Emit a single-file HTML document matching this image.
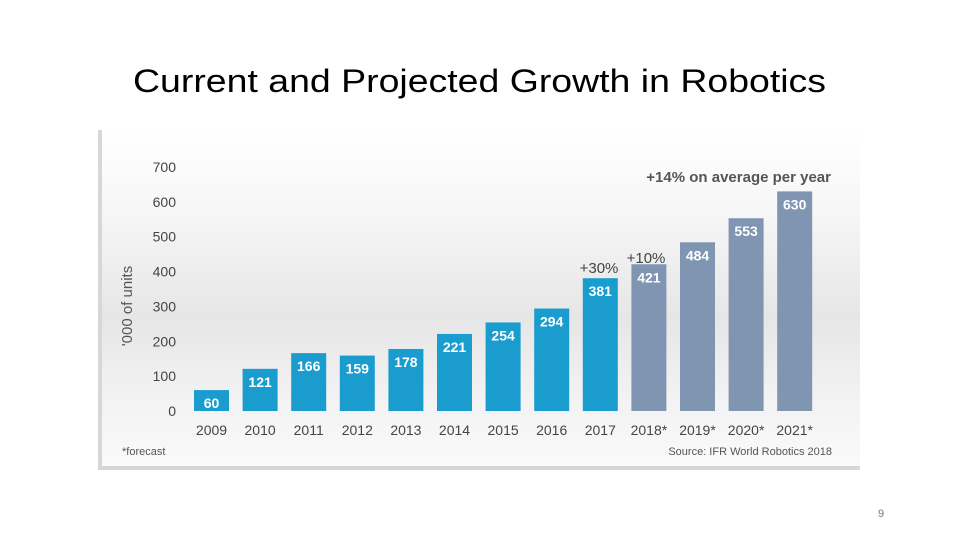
<!DOCTYPE html>
<html><head><meta charset="utf-8"><style>
body{margin:0;width:960px;height:540px;background:#fff;position:relative;overflow:hidden;font-family:"Liberation Sans",sans-serif}
#pg{position:absolute;left:878px;top:508px;font-size:11px;color:#777}
</style></head><body>
<svg id="chart" width="960" height="540" style="position:absolute;left:0;top:0">
<defs>
<linearGradient id="bg" x1="0" y1="0" x2="0" y2="1">
<stop offset="0" stop-color="#ffffff"/><stop offset="0.25" stop-color="#f6f6f6"/><stop offset="0.55" stop-color="#e6e6e6"/><stop offset="0.8" stop-color="#f3f3f3"/><stop offset="1" stop-color="#fafafa"/>
</linearGradient>
</defs>
<text x="133" y="92" font-size="32" textLength="693" lengthAdjust="spacingAndGlyphs" fill="#000">Current and Projected Growth in Robotics</text>
<rect x="98" y="130" width="762" height="340" fill="url(#bg)"/>
<rect x="98" y="130" width="4" height="340" fill="#d4d8dd"/>
<rect x="98" y="466" width="762" height="4" fill="#d4d8dd"/>
<g id="ticks"></g><g id="bars"></g>
<text transform="translate(132,306) rotate(-90)" text-anchor="middle" font-size="15" fill="#555">'000 of units</text>
<text x="122" y="455" font-size="11" fill="#555">*forecast</text>
<text x="832" y="455" font-size="11" fill="#555" text-anchor="end">Source: IFR World Robotics 2018</text>
<text x="831" y="182" font-size="15" font-weight="bold" fill="#555" text-anchor="end">+14% on average per year</text>
<text x="599" y="273" font-size="15" fill="#444" text-anchor="middle">+30%</text>
<text x="646" y="263" font-size="15" fill="#444" text-anchor="middle">+10%</text>
</svg>
<div id="pg">9</div>
<script>
const years=["2009","2010","2011","2012","2013","2014","2015","2016","2017","2018*","2019*","2020*","2021*"];
const units=[60,121,166,159,178,221,254,294,381,421,484,553,630];
const forecast=[false,false,false,false,false,false,false,false,false,true,true,true,true];
const yTicks=[0,100,200,300,400,500,600,700];
const NS="http://www.w3.org/2000/svg";
const y0=411,ppu=244/700;
const yS=v=>y0-v*ppu;
const xS=i=>194+i*48.6;
const bw=35;
function mk(t,a,p,txt){const e=document.createElementNS(NS,t);for(const k in a)e.setAttribute(k,a[k]);if(txt!==undefined)e.textContent=txt;p.appendChild(e);return e;}
const tg=document.getElementById('ticks'),bg=document.getElementById('bars');
yTicks.forEach(v=>{const e=mk('text',{x:176,y:yS(v)+5,'font-size':14,fill:'#444','text-anchor':'end'},tg,String(v));

});
units.forEach((v,i)=>{
const r=mk('rect',{x:xS(i),y:yS(v),width:bw,height:v*ppu,fill:forecast[i]?'#7f95b2':'#1a9ccf'},bg);


const l=mk('text',{x:xS(i)+bw/2,y:yS(v)+18,'font-size':14,'font-weight':'bold',fill:'#fff','text-anchor':'middle'},bg,String(v));


const xl=mk('text',{x:xS(i)+bw/2,y:435,'font-size':14,fill:'#444','text-anchor':'middle'},bg,years[i]);


});
</script>
</body></html>
